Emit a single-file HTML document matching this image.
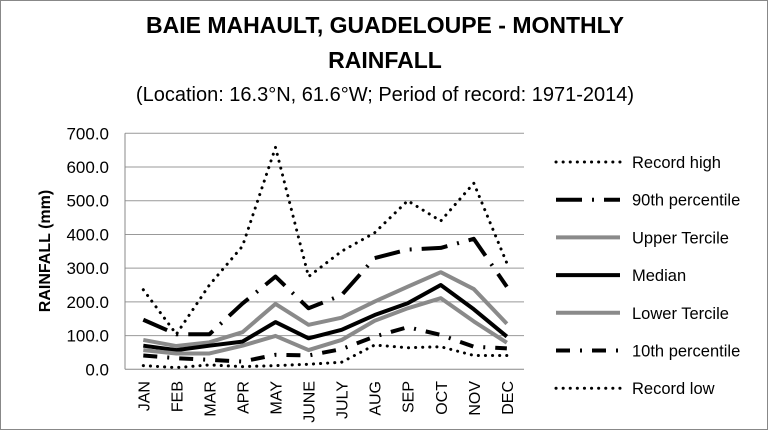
<!DOCTYPE html>
<html><head><meta charset="utf-8"><style>
body{margin:0;background:#fff}
svg{display:block;font-family:"Liberation Sans",sans-serif}
</style></head><body>
<svg id="c" width="768" height="430">
<rect x="0.5" y="0.5" width="767" height="429" fill="#fff" stroke="#888"/>
<text x="385" y="33" text-anchor="middle" font-size="23" font-weight="bold">BAIE MAHAULT, GUADELOUPE - MONTHLY</text>
<text x="385" y="68" text-anchor="middle" font-size="23" font-weight="bold">RAINFALL</text>
<text x="385" y="101" text-anchor="middle" font-size="20">(Location: 16.3°N, 61.6°W; Period of record: 1971-2014)</text>
<text transform="translate(50,251) rotate(-90)" text-anchor="middle" font-size="16" font-weight="bold">RAINFALL (mm)</text>
<g id="grid"></g><g id="series"></g><g id="legend"></g>
</svg>
<script>
const months=["JAN","FEB","MAR","APR","MAY","JUNE","JULY","AUG","SEP","OCT","NOV","DEC"];
const yTicks=[0,100,200,300,400,500,600,700];
const yTickLabels=["0.0","100.0","200.0","300.0","400.0","500.0","600.0","700.0"];
const recordHigh=[236,104,250,365,658,275,350,405,500,440,552,315];
const p90=[147,104,104,195,275,181,220,330,355,360,387,245];
const upperTercile=[87,69,80,110,194,132,153,201,245,288,238,135];
const median=[70,57,70,82,140,92,117,161,196,250,178,97];
const lowerTercile=[57,47,47,70,99,57,87,144,181,211,142,79];
const p10=[41,33,28,23,43,41,60,97,125,102,67,62];
const recordLow=[11,5,13,8,11,15,21,72,64,67,41,41];
const NS="http://www.w3.org/2000/svg";
const L=125,R=524,T=133.3,B=369.3;
const y=v=>B-(v/700)*(B-T);
const x=i=>143.3+i*33.05;
function mk(tag,attrs,parent){const e=document.createElementNS(NS,tag);for(const k in attrs)e.setAttribute(k,attrs[k]);parent.appendChild(e);return e;}
const grid=document.getElementById('grid');
yTicks.forEach((v,i)=>{
  const ln=mk('line',{x1:L,x2:R,y1:y(v),y2:y(v),stroke:i===0?'#888':'#999','stroke-width':1},grid);
  
  
  const t=mk('text',{x:109,y:y(v)+6,'text-anchor':'end','font-size':17},grid);
  t.textContent=yTickLabels[i];
  
  
});
const ax=mk('line',{x1:L,x2:L,y1:T,y2:B,stroke:'#888'},grid);


months.forEach((m,i)=>{
  const t=mk('text',{transform:`translate(${x(i)+6},381) rotate(-90)`,'text-anchor':'end','font-size':16},grid);
  t.textContent=m;
  
  
});
const defs=[
 {n:"Record high",d:recordHigh,c:"#000",w:3,da:"0.1 7",cap:"round",id:"record-high"},
 {n:"90th percentile",d:p90,c:"#000",w:4,da:"26 10 2 10",cap:"butt",id:"90th-percentile"},
 {n:"Upper Tercile",d:upperTercile,c:"#8a8a8a",w:4,da:"",cap:"butt",id:"upper-tercile"},
 {n:"Median",d:median,c:"#000",w:4,da:"",cap:"butt",id:"median"},
 {n:"Lower Tercile",d:lowerTercile,c:"#8a8a8a",w:4,da:"",cap:"butt",id:"lower-tercile"},
 {n:"10th percentile",d:p10,c:"#000",w:4,da:"14 10 2 10",cap:"butt",id:"10th-percentile"},
 {n:"Record low",d:recordLow,c:"#000",w:3,da:"0.1 7",cap:"round",id:"record-low"}];
const sg=document.getElementById('series'),lg=document.getElementById('legend');
defs.forEach((s,k)=>{
  const p=mk('polyline',{points:s.d.map((v,i)=>x(i)+','+y(v)).join(' '),fill:'none',stroke:s.c,'stroke-width':s.w,'stroke-dasharray':s.da,'stroke-linecap':s.cap,'stroke-linejoin':'round'},sg);
  
  
  const ly=162+k*37.7;
  const g=mk('g',{},lg);
  
  
  mk('line',{x1:556,x2:620,y1:ly,y2:ly,stroke:s.c,'stroke-width':s.w,'stroke-dasharray':s.da,'stroke-linecap':s.cap},g);
  const t=mk('text',{x:632,y:ly+6,'font-size':16.5},g);
  t.textContent=s.n;
});
</script>
</body></html>
